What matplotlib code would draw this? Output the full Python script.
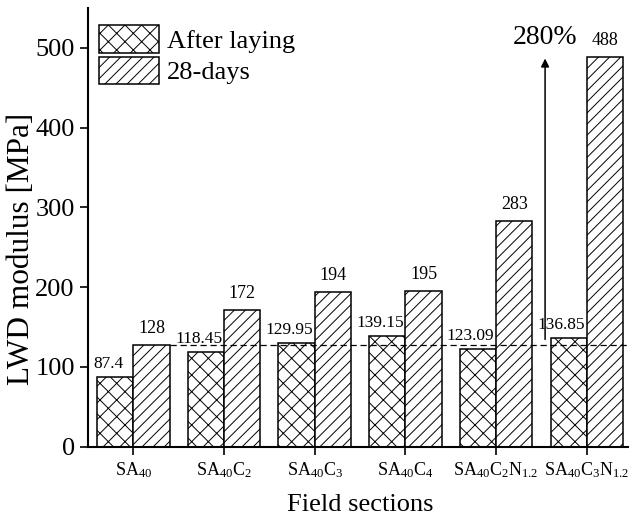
import matplotlib
matplotlib.use("Agg")
from matplotlib import pyplot as plt
import numpy as np

plt.rcParams['font.family'] = ['Liberation Serif', 'DejaVu Serif']
plt.rcParams['mathtext.fontset'] = 'custom'
plt.rcParams['mathtext.rm'] = 'Liberation Serif'
plt.rcParams['mathtext.it'] = 'Liberation Serif'
plt.rcParams['hatch.linewidth'] = 0.7

sections = ['SA$_{40}$', 'SA$_{40}$C$_{2}$', 'SA$_{40}$C$_{3}$', 'SA$_{40}$C$_{4}$',
            'SA$_{40}$C$_{2}$N$_{1.2}$', 'SA$_{40}$C$_{3}$N$_{1.2}$']
after_laying = [87.4, 118.45, 129.95, 139.15, 123.09, 136.85]
days28 = [128, 172, 194, 195, 283, 488]
after_text = ['87.4', '118.45', '129.95', '139.15', '123.09', '136.85']
days_text = ['128', '172', '194', '195', '283', '488']

fig = plt.figure(figsize=(6.29, 5.25), dpi=100)
ax = fig.add_axes([0.140, 0.149, 0.865, 0.836])

x = np.arange(len(sections))
w = 0.4
ax.bar(x - w / 2, after_laying, w, color="white", edgecolor="black", hatch="xx",
       linewidth=1.1, label="After laying")
ax.bar(x + w / 2, days28, w, color="white", edgecolor="black", hatch="///",
       linewidth=1.1, label="28-days")

for i in range(len(x)):
    ax.text(x[i] - w / 2 - 0.08, after_laying[i] + 6, after_text[i], ha="center",
            va="bottom", fontsize=12.5)
    ax.text(x[i] + w / 2, days28[i] + 10, days_text[i], ha="center",
            va="bottom", fontsize=13)

# reference line at the SA40 28-day value
ax.plot([0.4, 5.45], [days28[0], days28[0]], color="black", linestyle="--",
        linewidth=0.9, dashes=(5, 3))
ax.annotate("", xy=(4.54, 490), xytext=(4.54, days28[0] + 3),
            arrowprops=dict(arrowstyle="-|>", color="black", lw=1.1,
                            mutation_scale=12))
ax.text(4.54, 497, "280%", ha="center", va="bottom", fontsize=20)

ax.set_xlim(-0.5, 5.5)
ax.set_ylim(0, 550)
ax.set_yticks([0, 100, 200, 300, 400, 500])
ax.set_xticks(x)
ax.set_xticklabels(sections, fontsize=13)
ax.tick_params(axis="y", labelsize=19, width=1.2, length=6)
ax.tick_params(axis="x", width=1.2, length=6)
ax.spines["top"].set_visible(False)
ax.spines["right"].set_visible(False)
ax.spines["left"].set_linewidth(1.5)
ax.spines["bottom"].set_linewidth(1.5)
ax.set_xlabel("Field sections", fontsize=19, labelpad=10)
ax.set_ylabel("LWD modulus [MPa]", fontsize=22.5, labelpad=0)
ax.yaxis.set_label_coords(-0.095, 0.45)

ax.legend(loc="upper left", bbox_to_anchor=(-0.005, 0.99), frameon=False, fontsize=19,
          handlelength=2.3, handleheight=1.2, labelspacing=0.15, handletextpad=0.3,
          borderaxespad=0.1)

fig.savefig("out.png", dpi=100)
